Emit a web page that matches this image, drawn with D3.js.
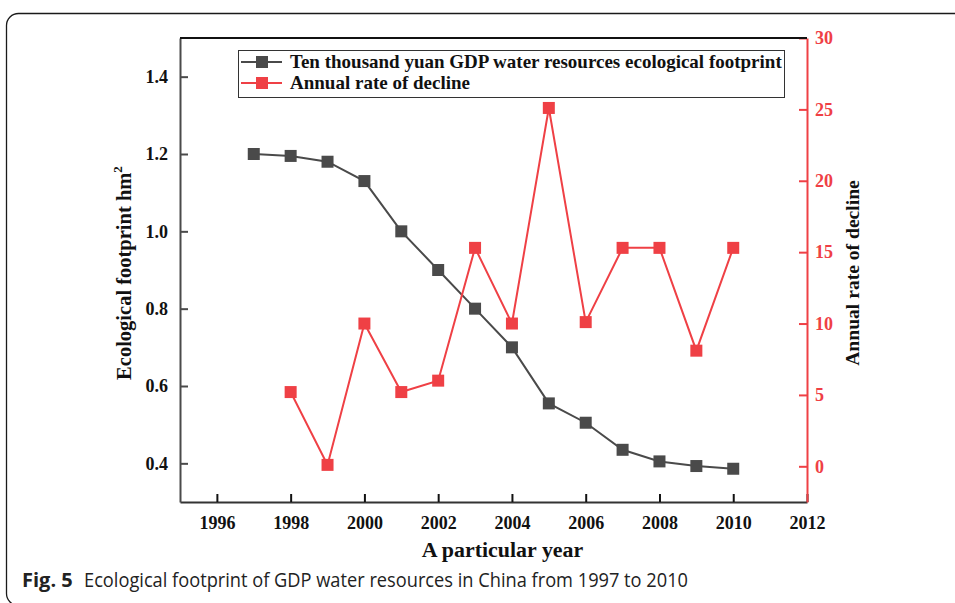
<!DOCTYPE html>
<html>
<head>
<meta charset="utf-8">
<script src="https://cdn.jsdelivr.net/npm/d3@7"></script>
<style>
  html, body { margin: 0; padding: 0; background: #fff; }
  svg { display: block; }
</style>
</head>
<body>
<svg id="chart" width="955" height="603"></svg>
<script>
// Years covered by the study
const years = [1997, 1998, 1999, 2000, 2001, 2002, 2003, 2004, 2005, 2006, 2007, 2008, 2009, 2010];
// Ecological footprint per ten thousand yuan GDP (hm²)
const footprint = [1.20, 1.195, 1.18, 1.13, 1.00, 0.90, 0.80, 0.70, 0.555, 0.505, 0.435, 0.405, 0.393, 0.386];
// Annual rate of decline (%), no value for the first year
const declineYears = [1998, 1999, 2000, 2001, 2002, 2003, 2004, 2005, 2006, 2007, 2008, 2009, 2010];
const decline = [5.2, 0.1, 10.0, 5.2, 6.0, 15.3, 10.0, 25.1, 10.1, 15.3, 15.3, 8.1, 15.3];
// Tick values
const xTicks = [1996, 1998, 2000, 2002, 2004, 2006, 2008, 2010, 2012];
const leftTicks = [0.4, 0.6, 0.8, 1.0, 1.2, 1.4];
const rightTicks = [0, 5, 10, 15, 20, 25, 30];

const GREY = "#4a4a4a";
const RED = "#ef4045";
const SERIF = "'Liberation Serif', 'Times New Roman', serif";
const SANS = "'Open Sans', 'Noto Sans', sans-serif";

const svg = d3.select("#chart");
const m = { left: 180, right: 807, top: 38, bottom: 502 };

// Rounded panel border
svg.append("rect")
  .attr("x", 6.5).attr("y", 13.5).attr("width", 980).attr("height", 592)
  .attr("rx", 12).attr("ry", 12)
  .attr("fill", "none").attr("stroke", "#1a1a1a").attr("stroke-width", 1.3);

const x = d3.scaleLinear().domain([1995, 2012]).range([m.left, m.right]);
const yL = d3.scaleLinear().domain([0.3, 1.5]).range([m.bottom, m.top]);
const yR = d3.scaleLinear().domain([-2.5, 30]).range([m.bottom, m.top]);

const tickFont = (g, color) => g.selectAll("text")
  .attr("font-family", SERIF).attr("font-weight", "bold")
  .attr("font-size", 18).attr("fill", color);

// Bottom axis
const gx = svg.append("g").attr("transform", `translate(0,${m.bottom})`)
  .call(d3.axisBottom(x).tickValues(xTicks).tickFormat(d3.format("d"))
    .tickSizeInner(-8).tickSizeOuter(0).tickPadding(14));
gx.select(".domain").attr("stroke", "#333").attr("stroke-width", 2);
gx.selectAll(".tick line").attr("stroke", "#111").attr("stroke-width", 2);
tickFont(gx, "#111");

// Left axis
const gl = svg.append("g").attr("transform", `translate(${m.left},0)`)
  .call(d3.axisLeft(yL).tickValues(leftTicks).tickFormat(d3.format(".1f"))
    .tickSizeInner(-8).tickSizeOuter(0).tickPadding(12));
gl.select(".domain").attr("stroke", GREY).attr("stroke-width", 2);
gl.selectAll(".tick line").attr("stroke", GREY).attr("stroke-width", 2);
tickFont(gl, "#111");

// Right axis
const gr = svg.append("g").attr("transform", `translate(${m.right},0)`)
  .call(d3.axisRight(yR).tickValues(rightTicks).tickFormat(d3.format("d"))
    .tickSizeInner(-8).tickSizeOuter(0).tickPadding(8));
gr.select(".domain").attr("stroke", RED).attr("stroke-width", 2);
gr.selectAll(".tick line").attr("stroke", RED).attr("stroke-width", 2);
tickFont(gr, RED);

// Top frame line
svg.append("line")
  .attr("x1", m.left).attr("x2", m.right).attr("y1", m.top).attr("y2", m.top)
  .attr("stroke", "#111").attr("stroke-width", 2);

// Axis titles
svg.append("text")
  .attr("transform", `translate(${(m.left + m.right) / 2 + 9},557) scale(1.07,1)`)
  .attr("text-anchor", "middle")
  .attr("font-family", SERIF).attr("font-weight", "bold").attr("font-size", 20.5)
  .attr("fill", "#111").text("A particular year");

const leftTitle = svg.append("text")
  .attr("transform", `translate(131,${(m.top + m.bottom) / 2 + 3}) rotate(-90)`)
  .attr("text-anchor", "middle")
  .attr("font-family", SERIF).attr("font-weight", "bold").attr("font-size", 20.5)
  .attr("fill", "#111");
leftTitle.append("tspan").text("Ecological footprint hm");
leftTitle.append("tspan").attr("dy", -9).attr("font-size", 13).text("2");

svg.append("text")
  .attr("transform", `translate(859,${(m.top + m.bottom) / 2 + 3}) rotate(-90)`)
  .attr("text-anchor", "middle")
  .attr("font-family", SERIF).attr("font-weight", "bold").attr("font-size", 19.6)
  .attr("fill", "#111").text("Annual rate of decline");

// Series drawing helper
function series(xs, ys, yScale, color) {
  const pts = xs.map((d, i) => [d, ys[i]]);
  svg.append("path").datum(pts)
    .attr("fill", "none").attr("stroke", color).attr("stroke-width", 2)
    .attr("d", d3.line().x(d => x(d[0])).y(d => yScale(d[1])));
  svg.append("g").selectAll("rect").data(pts).join("rect")
    .attr("x", d => x(d[0]) - 6).attr("y", d => yScale(d[1]) - 6)
    .attr("width", 12).attr("height", 12).attr("fill", color);
}
series(years, footprint, yL, GREY);
series(declineYears, decline, yR, RED);

// Legend
const lg = svg.append("g");
lg.append("rect").attr("x", 238.5).attr("y", 50.5).attr("width", 546).attr("height", 47)
  .attr("fill", "#fff").attr("stroke", "#333").attr("stroke-width", 1);
const legendItems = [
  { label: "Ten thousand yuan GDP water resources ecological footprint", color: GREY },
  { label: "Annual rate of decline", color: RED }
];
legendItems.forEach((it, i) => {
  const cy = 62 + i * 21;
  lg.append("line").attr("x1", 241).attr("x2", 282).attr("y1", cy).attr("y2", cy)
    .attr("stroke", it.color).attr("stroke-width", 2);
  lg.append("rect").attr("x", 256).attr("y", cy - 6).attr("width", 12).attr("height", 12)
    .attr("fill", it.color);
  lg.append("text").attr("x", 290).attr("y", cy + 6)
    .attr("font-family", SERIF).attr("font-weight", "bold").attr("font-size", 19)
    .attr("fill", "#111").text(it.label);
});

// Figure caption
svg.append("text").attr("x", 22).attr("y", 587)
  .attr("font-family", SANS).attr("font-size", 20).attr("font-weight", "bold")
  .attr("fill", "#222").text("Fig. 5");
svg.append("text").attr("x", 84).attr("y", 587)
  .attr("font-family", SANS).attr("font-size", 20)
  .attr("textLength", 604).attr("lengthAdjust", "spacingAndGlyphs")
  .attr("fill", "#222").text("Ecological footprint of GDP water resources in China from 1997 to 2010");
</script>
</body>
</html>
